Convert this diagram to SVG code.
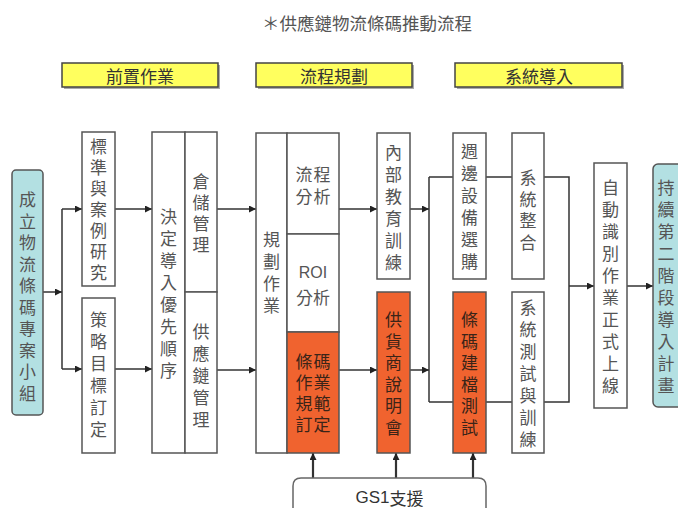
<svg xmlns="http://www.w3.org/2000/svg" width="678" height="508" viewBox="0 0 678 508">
<style>
text{font-family:"Noto Sans CJK TC","Noto Sans CJK SC",sans-serif;fill:#555;}
.v{font-size:17px;writing-mode:vertical-rl;text-anchor:start;}
.h{font-size:17px;text-anchor:middle;dominant-baseline:central;}
.o text{fill:#3a2418;}
.box{fill:#fff;stroke:#555;stroke-width:1.5;}
.org{fill:#f0632f;stroke:#555;stroke-width:1.5;}
.teal{fill:#b3e0e2;stroke:#555;stroke-width:1.5;}
.yel{fill:#ffff5e;stroke:#444;stroke-width:1.5;}
.sh{fill:#aaa;}
.hd{font-size:17px;text-anchor:middle;dominant-baseline:central;fill:#333;}
.c path{fill:none;stroke:#333;stroke-width:1.5;}
.c .a{marker-end:url(#ah);}
.c .g{stroke-width:2.2;marker-end:url(#ah);}
</style>
<defs>
<marker id="ah" viewBox="0 0 10 10" refX="10" refY="5" markerWidth="7" markerHeight="7" markerUnits="userSpaceOnUse" orient="auto"><path d="M0,0 L10,5 L0,10 Z" fill="#222"/></marker>
</defs>
<rect width="678" height="508" fill="#fff"/>
<text id="title" x="367" y="22" style="font-size:17.5px;text-anchor:middle;dominant-baseline:central;fill:#555">＊供應鏈物流條碼推動流程</text>

<g id="h1"><rect class="sh" x="64" y="65" width="156" height="24"/><rect class="yel" x="62" y="63" width="156" height="24"/><text class="hd" x="140" y="75">前置作業</text></g>
<g id="h2"><rect class="sh" x="258" y="65" width="156" height="24"/><rect class="yel" x="256" y="63" width="156" height="24"/><text class="hd" x="334" y="75">流程規劃</text></g>
<g id="h3"><rect class="sh" x="457" y="65" width="167" height="24"/><rect class="yel" x="455" y="63" width="167" height="24"/><text class="hd" x="539" y="75">系統導入</text></g>

<g class="c" id="connectors">
<path class="a" d="M43,292 H62"/>
<path d="M62,209 V369"/>
<path class="a" d="M62,209 H82"/>
<path class="a" d="M62,369 H82"/>
<path class="a" d="M115,209 H152"/>
<path class="a" d="M115,369 H152"/>
<path class="a" d="M217,209 H256"/>
<path class="a" d="M217,370 H256"/>
<path class="a" d="M339,209 H377"/>
<path class="a" d="M339,370 H377"/>
<path class="a" d="M410,209 H429"/>
<path class="a" d="M410,370 H429"/>
<path d="M429,177 V402"/>
<path d="M429,177 H453 M486,177 H512 M544,177 H569 V402 H544 M512,402 H486 M453,402 H429"/>
<path class="a" d="M569,286 H594"/>
<path class="a" d="M627,286 H653"/>
<path class="g" d="M313,478 V453"/>
<path class="g" d="M396,478 V453"/>
<path class="g" d="M473,478 V453"/>
</g>

<g id="n1"><rect class="teal" x="12" y="170" width="31" height="245" rx="4"/>
<text class="v" x="27.5" y="191.5" letter-spacing="4.5">成立物流條碼專案小組</text></g>

<g id="n2"><rect class="box" x="82" y="132" width="33" height="154"/>
<text class="v" x="98.5" y="138.5" letter-spacing="4">標準與案例研究</text></g>

<g id="n3"><rect class="box" x="82" y="298" width="33" height="155"/>
<text class="v" x="98.5" y="311.5" letter-spacing="5">策略目標訂定</text></g>

<g id="n4"><rect class="box" x="152" y="132" width="33" height="321"/>
<text class="v" x="168.5" y="208.5" letter-spacing="5">決定導入優先順序</text></g>

<g id="n5"><rect class="box" x="185" y="132" width="32" height="160"/>
<text class="v" x="201" y="173.5" letter-spacing="4">倉儲管理</text></g>

<g id="n6"><rect class="box" x="185" y="292" width="32" height="161"/>
<text class="v" x="201" y="323.5" letter-spacing="5">供應鏈管理</text></g>

<g id="n7"><rect class="box" x="256" y="133" width="31" height="320"/>
<text class="v" x="271.5" y="231.5" letter-spacing="5">規劃作業</text></g>

<g id="n8"><rect class="box" x="287" y="133" width="52" height="101"/>
<text class="v" x="304" y="166.5" letter-spacing="5">流分</text>
<text class="v" x="322" y="166.5" letter-spacing="5">程析</text></g>

<g id="n9"><rect class="box" x="287" y="234" width="52" height="98"/>
<text class="h" x="313" y="272" style="font-family:'Liberation Sans',sans-serif;font-size:16px">ROI</text>
<text class="h" x="313" y="296">分析</text></g>

<g id="n10" class="o"><rect class="org" x="287" y="332" width="52" height="121"/>
<text class="v" x="304" y="353.5" letter-spacing="4">條作規訂</text>
<text class="v" x="322" y="353.5" letter-spacing="4">碼業範定</text></g>

<g id="n11"><rect class="box" x="377" y="133" width="33" height="146"/>
<text class="v" x="393.5" y="144.5" letter-spacing="5">內部教育訓練</text></g>

<g id="n12" class="o"><rect class="org" x="377" y="292" width="33" height="161"/>
<text class="v" x="393.5" y="311.5" letter-spacing="4.5">供貨商說明會</text></g>

<g id="n13"><rect class="box" x="453" y="133" width="33" height="146"/>
<text class="v" x="469.5" y="143.5" letter-spacing="5">週邊設備選購</text></g>

<g id="n14"><rect class="box" x="512" y="133" width="32" height="146"/>
<text class="v" x="528" y="169.5" letter-spacing="4.5">系統整合</text></g>

<g id="n15" class="o"><rect class="org" x="453" y="292" width="33" height="161"/>
<text class="v" x="469.5" y="311.5" letter-spacing="4.5">條碼建檔測試</text></g>

<g id="n16"><rect class="box" x="512" y="292" width="32" height="161"/>
<text class="v" x="528" y="299.5" letter-spacing="5">系統測試與訓練</text></g>

<g id="n17"><rect class="box" x="594" y="163" width="33" height="245"/>
<text class="v" x="610.5" y="179.5" letter-spacing="5">自動識別作業正式上線</text></g>

<g id="n18"><rect class="teal" x="653" y="164" width="40" height="243" rx="5"/>
<text class="v" x="666" y="179.5" letter-spacing="5">持續第二階段導入計畫</text></g>

<g id="gs1"><path d="M293,510 V486 Q293,478 301,478 H478 Q486,478 486,486 V510" fill="#fff" stroke="#666" stroke-width="1.5"/>
<text x="389.5" y="497" style="font-size:17px;text-anchor:middle;dominant-baseline:central;fill:#333"><tspan style="font-family:'Liberation Sans',sans-serif">GS1</tspan>支援</text></g>
</svg>
